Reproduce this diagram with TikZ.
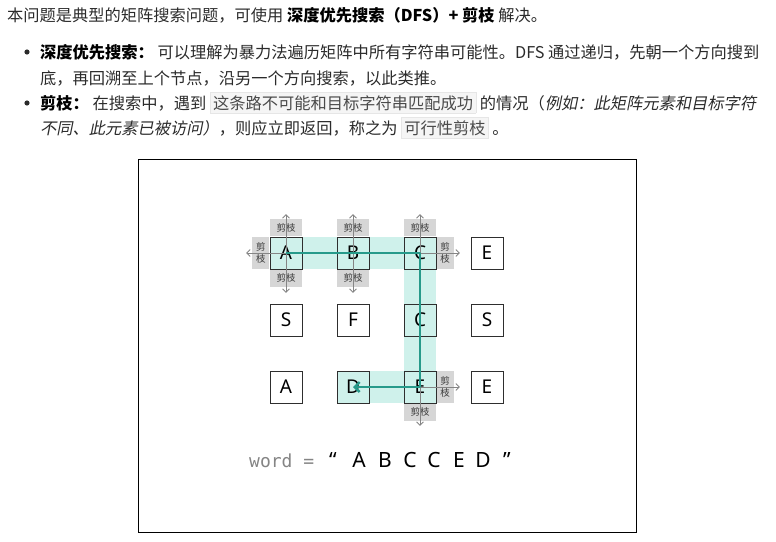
\documentclass[tikz,border=0pt]{standalone}
\usepackage{fontspec}
\setmainfont{Noto Sans CJK SC}
\newfontfamily\cjkit{Noto Sans CJK SC}[FakeSlant=0.2]
\newfontfamily\cellfont{Noto Sans}
\newfontfamily\wordmono{DejaVu Sans Mono}
\usetikzlibrary{arrows.meta,positioning,backgrounds}
\definecolor{tealline}{HTML}{269A8A}
\definecolor{tealband}{HTML}{CFF1EB}
\definecolor{prunebg}{HTML}{D6D6D6}
\definecolor{prunetxt}{HTML}{3A3A3A}
\definecolor{grayarrow}{HTML}{858585}
\definecolor{bodytxt}{HTML}{2B2B2B}
\definecolor{codebg}{HTML}{F5F5F5}
\definecolor{codeborder}{HTML}{E6E6E6}
\definecolor{codetxt}{HTML}{4A4A4A}
\definecolor{celldraw}{HTML}{2E2E2E}
\newcommand{\codebx}[1]{{\setlength{\fboxsep}{2.5pt}\setlength{\fboxrule}{0.6pt}\fcolorbox{codeborder}{codebg}{\textcolor{codetxt}{#1}}}}
\begin{document}
\begin{tikzpicture}[x=1pt,y=-1pt,
  txt/.style={anchor=base west,inner sep=0pt,text=bodytxt,font=\fontsize{16.25}{20}\selectfont},
  cell/.style={draw=celldraw,line width=0.9pt,minimum size=32pt,inner sep=0pt,font=\cellfont\fontsize{19}{19}\selectfont},
  prunev/.style={fill=prunebg,minimum width=32pt,minimum height=17pt,inner sep=0pt,text=prunetxt,font=\fontsize{9.5}{9.5}\selectfont},
  pruneh/.style={fill=prunebg,minimum width=17pt,minimum height=32pt,inner sep=0pt,text=prunetxt,align=center,font=\fontsize{9.5}{11.5}\selectfont},
  garrow/.style={draw=grayarrow,line width=0.8pt},
  gtip/.tip={Straight Barb[length=3.5pt,width=7pt,line width=0.8pt]},
  ttip/.tip={Straight Barb[length=5pt,width=10pt,line width=2.4pt]},
  word/.style={inner sep=0pt,anchor=base,font=\cellfont\fontsize{21}{21}\selectfont}
]
\useasboundingbox (0,0) rectangle (776,541);

% ---------- header text ----------
\node[txt] (l1) at (7,21) {本问题是典型的矩阵搜索问题，可使用 \textbf{\color{black}深度优先搜索（DFS）+ 剪枝} 解决。};
\fill[bodytxt] (27,52) circle (2.6pt);
\node[txt] (l2) at (40,58) {\textbf{\color{black}深度优先搜索：} 可以理解为暴力法遍历矩阵中所有字符串可能性。DFS 通过递归，先朝一个方向搜到};
\node[txt] (l3) at (40,84) {底，再回溯至上个节点，沿另一个方向搜索，以此类推。};
\fill[bodytxt] (27,103) circle (2.6pt);
\node[txt] (l4) at (40,109) {\textbf{\color{black}剪枝：} 在搜索中，遇到 \codebx{这条路不可能和目标字符串匹配成功} 的情况（{\cjkit 例如：此矩阵元素和目标字符}};
\node[txt] (l5) at (40,134) {{\cjkit 不同、此元素已被访问）}，则应立即返回，称之为 \codebx{可行性剪枝} 。};

% ---------- frame ----------
\node[draw=black,line width=1.3pt,minimum width=498pt,minimum height=373pt,inner sep=0pt,anchor=north west] (frame) at (137.5,158.5) {};

% ---------- cells ----------
\node[cell] (a1) at (286,253) {A};
\node[cell] (b1) at (353,253) {B};
\node[cell] (c1) at (420,253) {C};
\node[cell] (e1) at (487,253) {E};
\node[cell] (s2) at (286,320) {S};
\node[cell] (f2) at (353,320) {F};
\node[cell] (c2) at (420,320) {C};
\node[cell] (s2b) at (487,320) {S};
\node[cell] (a3) at (286,387) {A};
\node[cell] (d3) at (353,387) {D};
\node[cell] (e3) at (420,387) {E};
\node[cell] (e3b) at (487,387) {E};

% ---------- pruning labels ----------
\node[prunev,above=0pt of a1] (pa1t) {剪枝};
\node[prunev,below=0pt of a1] (pa1b) {剪枝};
\node[pruneh,left=0pt of a1] (pa1l) {剪\\枝};
\node[prunev,above=0pt of b1] (pb1t) {剪枝};
\node[prunev,below=0pt of b1] (pb1b) {剪枝};
\node[prunev,above=0pt of c1] (pc1t) {剪枝};
\node[pruneh,right=0pt of c1] (pc1r) {剪\\枝};
\node[pruneh,right=0pt of e3] (pe3r) {剪\\枝};
\node[prunev,below=0pt of e3] (pe3b) {剪枝};

\begin{pgfonlayer}{background}
  \fill[tealband] (a1.north west) rectangle (c1.south east);
  \fill[tealband] (c1.north west) rectangle (e3.south east);
  \fill[tealband] (d3.north west) rectangle (e3.south east);
\end{pgfonlayer}

% ---------- gray arrows ----------
\draw[garrow,{gtip}-{gtip}] ([yshift=5pt]pa1t.north) -- ([yshift=-6pt]pa1b.south);
\draw[garrow,-{gtip}] (a1.center) -- ([xshift=-6pt]pa1l.west);
\draw[garrow,{gtip}-{gtip}] ([yshift=5pt]pb1t.north) -- ([yshift=-6pt]pb1b.south);
\draw[garrow,-{gtip}] (c1.center) -- ([yshift=5pt]pc1t.north);
\draw[garrow,-{gtip}] (c1.center) -- ([xshift=6pt]pc1r.east);
\draw[garrow,-{gtip}] (e3.center) -- ([xshift=6pt]pe3r.east);
\draw[garrow,-{gtip}] (e3.center) -- ([yshift=-5pt]pe3b.south);

% ---------- search path ----------
\draw[tealline,line width=2.6pt,line join=round,-{ttip}] (a1.center) -- (c1.center) -- (e3.center) -- (d3.center);

% ---------- word ----------
\node[anchor=base west,inner sep=0pt,text=grayarrow,font=\wordmono\fontsize{18}{18}\selectfont] (wlabel) at (249,467) {word =};
\node[word] (wq1) at (333,467) {“};
\node[word] (w1) at (359,467) {A};
\node[word] (w2) at (385,467) {B};
\node[word] (w3) at (410,467) {C};
\node[word] (w4) at (434,467) {C};
\node[word] (w5) at (459,467) {E};
\node[word] (w6) at (483,467) {D};
\node[word] (wq2) at (507,467) {”};
\end{tikzpicture}
\end{document}
